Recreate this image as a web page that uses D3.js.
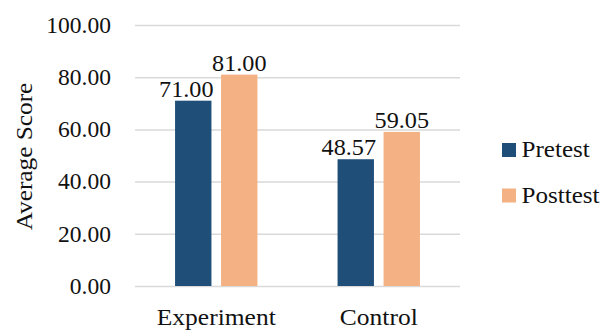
<!DOCTYPE html>
<html>
<head>
<meta charset="utf-8">
<script src="https://cdn.jsdelivr.net/npm/d3@7"></script>
<style>
  html, body { margin: 0; padding: 0; background: #fff; }
  svg { display: block; }
</style>
</head>
<body>
<svg id="chart" width="605" height="331"></svg>
<script>
// Average scores per group, before and after the intervention
const groups = ["Experiment", "Control"];
const seriesNames = ["Pretest", "Posttest"];
const pretest = [71.00, 48.57];
const posttest = [81.00, 59.05];
const yTicks = [0, 20, 40, 60, 80, 100];
const yTitle = "Average Score";

const colors = { Pretest: "#1f4e79", Posttest: "#f4b183" };
const seriesValues = { Pretest: pretest, Posttest: posttest };

const svg = d3.select("#chart");
const plot = { left: 135, right: 460, top: 25, bottom: 286 };
const FS = 22; // base font size; glyphs are widened with a transform

const y = d3.scaleLinear().domain([0, 100]).range([plot.bottom, plot.top]);
const x0 = d3.scaleBand().domain(groups).range([plot.left, plot.right])
  .paddingInner(0.493).paddingOuter(0.2465);
const x1 = d3.scaleBand().domain(seriesNames).range([0, x0.bandwidth()])
  .paddingInner(0.209).paddingOuter(0);

function serif(sel) {
  sel.attr("font-family", "Liberation Serif")
    .attr("font-size", FS)
    .attr("fill", "#111");
}

// Gridlines and y tick labels
const tickSx = 1.07, tickSy = 1.03;
const yAxis = svg.append("g")
  .attr("transform", `translate(${plot.left},0)`)
  .call(d3.axisLeft(y).tickValues(yTicks).tickFormat(d3.format(".2f"))
    .tickSize(-(plot.right - plot.left)).tickPadding(24));
yAxis.select(".domain").remove();
yAxis.selectAll(".tick line").attr("stroke", "#d9d9d9").attr("stroke-width", 1.5);
yAxis.selectAll(".tick text").call(serif)
  .attr("x", -24 / tickSx)
  .attr("transform", `scale(${tickSx},${tickSy})`);

// Category labels
const catSx = 1.16, catSy = 1.03;
const xAxis = svg.append("g")
  .attr("transform", `translate(0,${plot.bottom})`)
  .call(d3.axisBottom(x0).tickSize(0));
xAxis.select(".domain").remove();
xAxis.selectAll(".tick text").call(serif)
  .attr("y", 22.3)
  .attr("transform", `scale(${catSx},${catSy})`);

// Bars
const rows = groups.map((g, i) => ({
  group: g,
  values: seriesNames.map(s => ({ series: s, value: seriesValues[s][i] }))
}));

const groupSel = svg.append("g").selectAll("g")
  .data(rows).join("g")
  .attr("transform", d => `translate(${x0(d.group)},0)`);

groupSel.selectAll("rect")
  .data(d => d.values).join("rect")
  .attr("x", d => x1(d.series))
  .attr("y", d => y(d.value))
  .attr("width", x1.bandwidth())
  .attr("height", d => y(0) - y(d.value))
  .attr("fill", d => colors[d.series]);

// Value labels above bars (pretest labels sit slightly left)
groupSel.selectAll("text.value")
  .data(d => d.values).join("text")
  .attr("class", "value")
  .attr("transform", d => {
    const cx = x1(d.series) + x1.bandwidth() / 2 + (d.series === "Pretest" ? -7 : 0);
    return `translate(${cx},${y(d.value) - 4}) scale(1.1,1.03)`;
  })
  .attr("text-anchor", "middle")
  .call(serif)
  .text(d => d3.format(".2f")(d.value));

// Y axis title
svg.append("text")
  .attr("transform", `translate(32,${(plot.top + plot.bottom) / 2 + 1}) rotate(-90) scale(1.15,1.03)`)
  .attr("text-anchor", "middle")
  .call(serif)
  .text(yTitle);

// Legend
const legend = svg.append("g").selectAll("g")
  .data(seriesNames).join("g")
  .attr("transform", (d, i) => `translate(502,${157 + i * 45.5})`);
legend.append("rect")
  .attr("x", 0).attr("y", -14).attr("width", 14).attr("height", 14)
  .attr("fill", d => colors[d]);
legend.append("text")
  .attr("transform", "translate(19.5,0) scale(1.14,1.03)")
  .call(serif)
  .text(d => d);
</script>
</body>
</html>
